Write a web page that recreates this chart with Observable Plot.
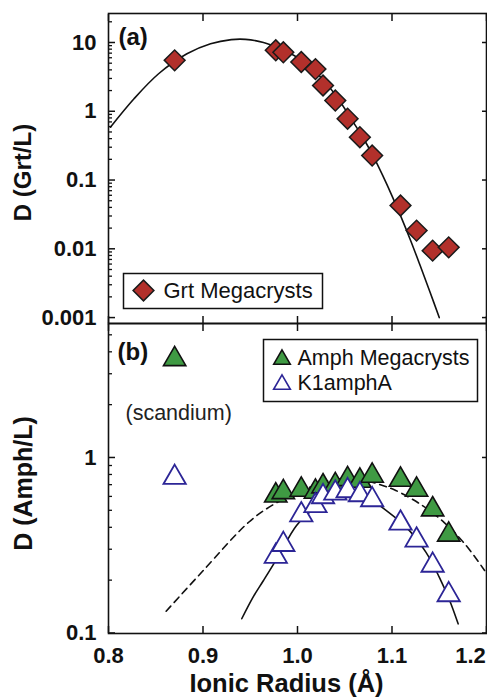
<!DOCTYPE html>
<html><head><meta charset="utf-8">
<script src="https://cdn.jsdelivr.net/npm/d3@7"></script>
<script src="https://cdn.jsdelivr.net/npm/@observablehq/plot@0.6"></script>
<style>
html,body{margin:0;padding:0;background:#fff;}
#wrap{position:relative;width:487px;height:697px;overflow:hidden;}
#wrap svg{position:absolute;left:0;top:0;}
</style></head><body><div id="wrap"></div>
<script>
// Elements (Sc, then REE + Y), ionic radius in Å
const elements = ["Sc","Lu","Yb","Er","Y","Dy","Tb","Gd","Eu","Sm","Nd","Pr","Ce","La"];
const ionicRadius = [0.870, 0.977, 0.985, 1.004, 1.019, 1.027, 1.040, 1.053, 1.066, 1.079, 1.109, 1.126, 1.143, 1.160];
// Panel (a): garnet / liquid
const dGrtMegacrysts = [5.5, 7.7, 7.2, 5.2, 4.1, 2.37, 1.43, 0.78, 0.42, 0.227, 0.0426, 0.0184, 0.0094, 0.0105];
// Panel (b): amphibole / liquid
const dAmphMegacrysts = [3.63, 0.607, 0.634, 0.655, 0.638, 0.684, 0.695, 0.752, 0.736, 0.787, 0.746, 0.655, 0.506, 0.363];
const dK1amphA = [0.769, 0.273, 0.319, 0.471, 0.531, 0.597, 0.626, 0.646, 0.613, 0.574, 0.422, 0.338, 0.243, 0.165];

// Fit curves
const grtFitRadius = [0.802, 0.827, 0.853, 0.883, 0.908, 0.930, 0.945, 0.964, 0.980, 1.000, 1.020, 1.040, 1.060, 1.070, 1.080, 1.090, 1.100, 1.110, 1.120, 1.130, 1.140, 1.150];
const grtFitD = [0.586, 1.52, 3.51, 6.85, 9.57, 11.0, 11.1, 10.0, 8.3, 6.03, 3.63, 1.74, 0.661, 0.398, 0.224, 0.1175, 0.0589, 0.0282, 0.0129, 0.00562, 0.0024, 0.001];
const amphFitRadius = [0.861, 0.900, 0.948, 0.973, 1.000, 1.030, 1.050, 1.070, 1.090, 1.104, 1.132, 1.155, 1.177, 1.198];
const amphFitD = [0.133, 0.226, 0.426, 0.533, 0.63, 0.73, 0.76, 0.745, 0.692, 0.649, 0.533, 0.427, 0.322, 0.227];
const k1FitRadius = [0.941, 0.953, 0.964, 0.980, 0.999, 1.020, 1.035, 1.050, 1.065, 1.080, 1.091, 1.115, 1.136, 1.150, 1.161, 1.170];
const k1FitD = [0.1205, 0.160, 0.199, 0.275, 0.410, 0.525, 0.596, 0.631, 0.617, 0.569, 0.513, 0.401, 0.288, 0.208, 0.153, 0.1127];

// Ticks
const xTicks = [0.8, 0.9, 1.0, 1.1, 1.2];
const xTickLabels = ["0.8", "0.9", "1.0", "1.1", "1.2"];
const yTicksA = [0.001, 0.01, 0.1, 1, 10];
const yTickLabelsA = ["0.001", "0.01", "0.1", "1", "10"];
const yMinorA = [0.002,0.003,0.004,0.005,0.006,0.007,0.008,0.009, 0.02,0.03,0.04,0.05,0.06,0.07,0.08,0.09, 0.2,0.3,0.4,0.5,0.6,0.7,0.8,0.9, 2,3,4,5,6,7,8,9, 20];
const yTicksB = [0.1, 1];
const yTickLabelsB = ["0.1", "1"];
const yMinorB = [0.2,0.3,0.4,0.5,0.6,0.7,0.8,0.9, 2,3,4,5];

const grtPoints = ionicRadius.map((r, i) => ({r, d: dGrtMegacrysts[i]}));
const amphPoints = ionicRadius.map((r, i) => ({r, d: dAmphMegacrysts[i]}));
const k1Points = ionicRadius.map((r, i) => ({r, d: dK1amphA[i]}));
const grtFit = grtFitRadius.map((r, i) => ({r, d: grtFitD[i]}));
const amphFit = amphFitRadius.map((r, i) => ({r, d: amphFitD[i]}));
const k1Fit = k1FitRadius.map((r, i) => ({r, d: k1FitD[i]}));

const FONT = "'Liberation Sans', Arial, Helvetica, sans-serif";
const RED = "#b2302b", GREEN = "#3f9a43", BLUE = "#2c2596";
const common = {
  width: 487, height: 697, marginLeft: 108, marginRight: 1,
  style: {background: "transparent", overflow: "visible", fontFamily: FONT, color: "#111"},
  x: {type: "linear", domain: [0.8, 1.2], label: null}
};
const tickMarks = (yMajor, yMinor) => [
  Plot.axisY(yMajor, {anchor: "left", tickSize: 7, dx: 7, tickFormat: () => "", strokeWidth: 1.5, label: null}),
  Plot.axisY(yMinor, {anchor: "left", tickSize: 4, dx: 4, tickFormat: () => "", strokeWidth: 1.3, label: null}),
  Plot.axisY(yMajor, {anchor: "right", tickSize: 5, dx: -5, tickFormat: () => "", strokeWidth: 1.5, label: null}),
  Plot.axisX(xTicks, {anchor: "top", tickSize: 7, dy: 7, tickFormat: () => "", strokeWidth: 1.5, label: null}),
  Plot.axisX(xTicks, {anchor: "bottom", tickSize: 7, dy: -7, tickFormat: () => "", strokeWidth: 1.5, label: null})
];

const plotA = Plot.plot({
  ...common,
  marginTop: 13, marginBottom: 374,
  y: {type: "log", domain: [0.00082, 26.4], label: null},
  marks: [
    ...tickMarks(yTicksA, yMinorA),
    Plot.axisY(yTicksA, {anchor: "left", tickSize: 0, tickPadding: 12, tickFormat: d => yTickLabelsA[yTicksA.indexOf(d)], fontSize: 22, fontWeight: "bold", label: null}),
    Plot.line(grtFit, {x: "r", y: "d", curve: "catmull-rom", stroke: "#111", strokeWidth: 1.6}),
    Plot.dot(grtPoints, {x: "r", y: "d", symbol: "square", rotate: 45, r: 8.3, fill: RED, stroke: "#1a1a1a", strokeWidth: 1.5}),
    Plot.frame({insetLeft: 15, insetRight: 164, insetTop: 260, insetBottom: 15, fill: "white", stroke: "#111", strokeWidth: 1.5}),
    Plot.dot([0], {frameAnchor: "top-left", dx: 35, dy: 277, symbol: "square", rotate: 45, r: 8.3, fill: RED, stroke: "#1a1a1a", strokeWidth: 1.5}),
    Plot.text(["Grt Megacrysts"], {frameAnchor: "top-left", dx: 55, dy: 277, textAnchor: "start", lineAnchor: "middle", fontSize: 22}),
    Plot.text(["(a)"], {frameAnchor: "top-left", dx: 10, dy: 24, textAnchor: "start", lineAnchor: "middle", fontSize: 24, fontWeight: "bold"}),
    Plot.text(["D (Grt/L)"], {frameAnchor: "left", dx: -85, dy: 4, rotate: -90, textAnchor: "middle", lineAnchor: "middle", fontSize: 24, fontWeight: "bold"}),
    Plot.frame({stroke: "#111", strokeWidth: 1.6})
  ]
});

const plotB = Plot.plot({
  ...common,
  marginTop: 323, marginBottom: 64,
  y: {type: "log", domain: [0.0993, 5.8], label: null},
  marks: [
    ...tickMarks(yTicksB, yMinorB),
    Plot.axisY(yTicksB, {anchor: "left", tickSize: 0, tickPadding: 12, tickFormat: d => yTickLabelsB[yTicksB.indexOf(d)], fontSize: 22, fontWeight: "bold", label: null}),
    Plot.axisX(xTicks.slice(0, 4), {anchor: "bottom", tickSize: 0, tickPadding: 14, tickFormat: d => xTickLabels[xTicks.indexOf(d)], fontSize: 22, fontWeight: "bold", label: null}),
    Plot.axisX(xTicks.slice(4), {anchor: "bottom", tickSize: 0, tickPadding: 14, dx: -16, tickFormat: d => xTickLabels[xTicks.indexOf(d)], fontSize: 22, fontWeight: "bold", label: null}),
    Plot.line(amphFit, {x: "r", y: "d", curve: "catmull-rom", stroke: "#111", strokeWidth: 1.6, strokeDasharray: "7,5"}),
    Plot.line(k1Fit, {x: "r", y: "d", curve: "catmull-rom", stroke: "#111", strokeWidth: 1.6}),
    Plot.dot(amphPoints, {x: "r", y: "d", symbol: "triangle", r: 8.3, fill: GREEN, stroke: "#111", strokeWidth: 1.6}),
    Plot.dot(k1Points, {x: "r", y: "d", symbol: "triangle", r: 8.3, fill: "white", stroke: BLUE, strokeWidth: 1.8}),
    Plot.frame({insetLeft: 155, insetRight: 9, insetTop: 16, insetBottom: 232, fill: "white", stroke: "#111", strokeWidth: 1.5}),
    Plot.dot([0], {frameAnchor: "top-left", dx: 173.5, dy: 36, symbol: "triangle", r: 6.2, fill: GREEN, stroke: "#111", strokeWidth: 1.5}),
    Plot.dot([0], {frameAnchor: "top-left", dx: 173.5, dy: 61, symbol: "triangle", r: 6.2, fill: "white", stroke: BLUE, strokeWidth: 1.6}),
    Plot.text(["Amph Megacrysts"], {frameAnchor: "top-left", dx: 189, dy: 35, textAnchor: "start", lineAnchor: "middle", fontSize: 21.5}),
    Plot.text(["K1amphA"], {frameAnchor: "top-left", dx: 189, dy: 60, textAnchor: "start", lineAnchor: "middle", fontSize: 21.5}),
    Plot.text(["(b)"], {frameAnchor: "top-left", dx: 9, dy: 29, textAnchor: "start", lineAnchor: "middle", fontSize: 24, fontWeight: "bold"}),
    Plot.text(["(scandium)"], {frameAnchor: "top-left", dx: 17, dy: 90, textAnchor: "start", lineAnchor: "middle", fontSize: 21.5, fill: "#222"}),
    Plot.text(["D (Amph/L)"], {frameAnchor: "left", dx: -85, dy: 5, rotate: -90, textAnchor: "middle", lineAnchor: "middle", fontSize: 25, fontWeight: "bold"}),
    Plot.text(["Ionic Radius (Å)"], {frameAnchor: "bottom", dx: -11, dy: 50, textAnchor: "middle", lineAnchor: "middle", fontSize: 25.5, fontWeight: "bold"}),
    Plot.frame({stroke: "#111", strokeWidth: 1.6})
  ]
});

const wrap = document.getElementById("wrap");
wrap.appendChild(plotA);
wrap.appendChild(plotB);
</script></body></html>
